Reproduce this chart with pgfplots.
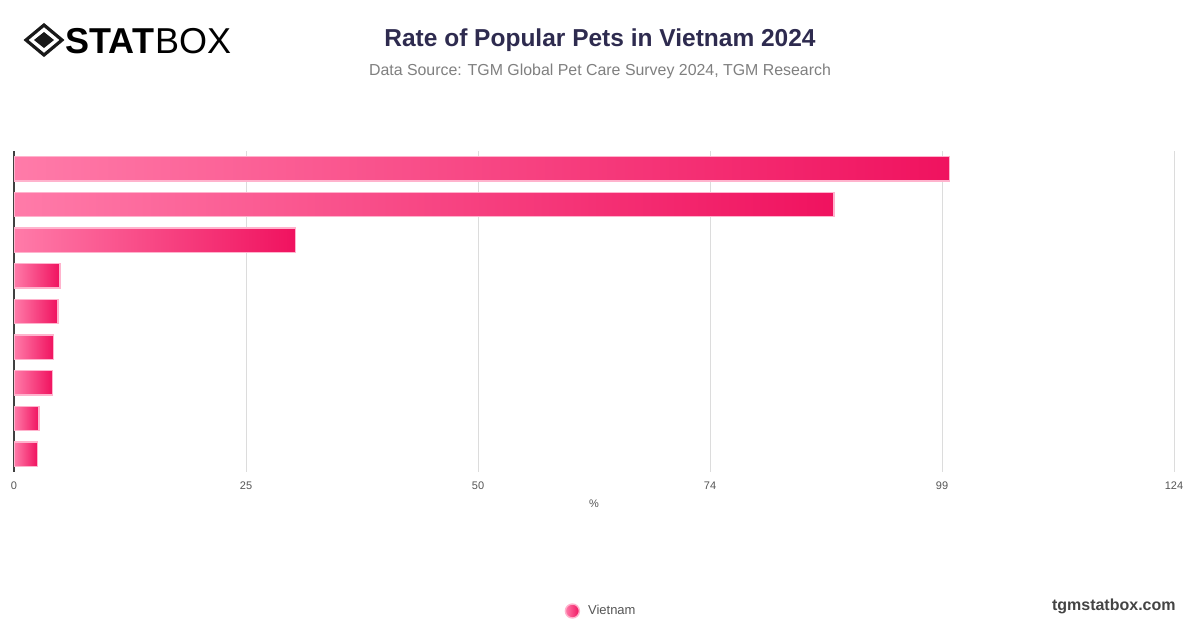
\documentclass[border=0pt]{standalone}
\usepackage{pgfplots}
\pgfplotsset{compat=1.18}
\usepackage{fontspec}
\setmainfont{Liberation Sans}
\definecolor{pinkL}{HTML}{FF7BA9}
\definecolor{pinkR}{HTML}{F0125F}
\definecolor{pinkB}{HTML}{FFB3CD}
\definecolor{titlec}{HTML}{2E2B4F}
\definecolor{subc}{HTML}{7F7F7F}
\definecolor{tickc}{HTML}{555555}
\definecolor{gridc}{HTML}{DCDCDC}
\definecolor{urlc}{HTML}{444444}
\pgfplotsset{pinkbar/.style={xbar, bar shift=0pt, bar width=12.2pt, draw=pinkB, line width=0.7pt, left color=pinkL, right color=pinkR}}
\begin{document}
\begin{tikzpicture}[x=0.5pt,y=-0.5pt]
\path (0,0) rectangle (1200,628);
% logo
\draw[line width=1.6pt,black!90] (44,25) -- (62,40) -- (44,55) -- (26,40) -- cycle;
\fill[black!90] (44,32) -- (54,40) -- (44,48) -- (34,40) -- cycle;
\node[anchor=west,inner sep=0pt] at (65,41) {\fontsize{18}{21}\selectfont\textbf{STAT}\hspace{0.5pt}BOX};
% titles
\node[anchor=center,inner sep=0pt,text=titlec] at (600,40) {\fontsize{12.25}{15}\selectfont\bfseries Rate of Popular Pets in Vietnam 2024};
\node[anchor=center,inner sep=0pt,text=subc] at (600,71) {\fontsize{7.95}{10}\selectfont Data Source: TGM Global Pet Care Survey 2024, TGM Research};
\node[anchor=east,inner sep=0pt,text=urlc] at (1176,606) {\fontsize{8}{10}\selectfont\bfseries tgmstatbox.com};
\begin{axis}[
  at={(7pt,-236pt)}, anchor=south west,
  scale only axis, width=580pt, height=160.5pt,
  xmin=0, xmax=124, ymin=-0.5, ymax=8.5, y dir=reverse,
  xtick={0,24.8,49.6,74.4,99.2,124},
  xticklabels={0,25,50,74,99,124},
  ytick=\empty,
  axis line style={draw=none},
  major tick length=0pt,
  xmajorgrids,
  grid style={draw=gridc, line width=0.5pt},
  extra x ticks={0}, extra x tick labels={},
  extra x tick style={grid style={draw=black!75, line width=0.6pt}},
  xticklabel style={font=\fontsize{5.5}{6}\selectfont, text=tickc, yshift=-1.5pt},
  xlabel={\%},
  xlabel style={font=\fontsize{5.5}{6}\selectfont, text=tickc, yshift=2pt},
  legend style={at={(0.507,-0.433)}, anchor=center, draw=none, fill=none,
    font=\fontsize{6.5}{8}\selectfont, text=tickc},
  legend image code/.code={\shade[left color=pinkL,right color=pinkR] (-0.1em,0pt) circle (3.5pt);},
]
\addplot[pinkbar] coordinates {(100,0)};
\addlegendentry{\hspace{2pt}Vietnam}
\addplot[pinkbar, forget plot] coordinates {(87.65,1)};
\addplot[pinkbar, forget plot] coordinates {(30.1,2)};
\addplot[pinkbar, forget plot] coordinates {(4.9,3)};
\addplot[pinkbar, forget plot] coordinates {(4.7,4)};
\addplot[pinkbar, forget plot] coordinates {(4.25,5)};
\addplot[pinkbar, forget plot] coordinates {(4.1,6)};
\addplot[pinkbar, forget plot] coordinates {(2.67,7)};
\addplot[pinkbar, forget plot] coordinates {(2.5,8)};
\end{axis}
\end{tikzpicture}
\end{document}
